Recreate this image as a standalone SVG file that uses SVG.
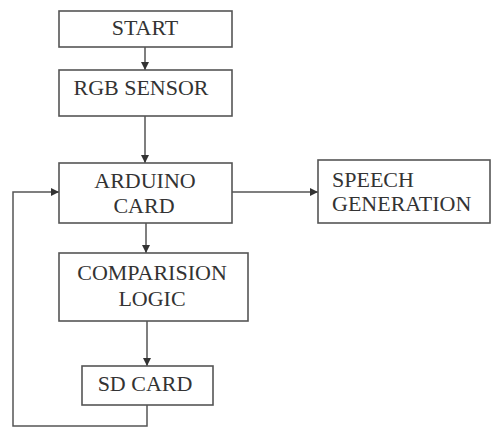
<svg xmlns="http://www.w3.org/2000/svg" width="492" height="428" viewBox="0 0 492 428">
<style>
.box{fill:#fff;stroke:#555;stroke-width:1.6}
.t{font-family:"Liberation Serif","Times New Roman",serif;font-size:22px;fill:#333}
.c{text-anchor:middle}
.ln{fill:none;stroke:#555;stroke-width:1.5}
</style>
<defs>
<marker id="ah" viewBox="0 0 10 10" refX="10" refY="5" markerWidth="8" markerHeight="8" markerUnits="userSpaceOnUse" orient="auto">
<path d="M0,0 L10,5 L0,10 Z" fill="#333"/>
</marker>
</defs>
<rect width="492" height="428" fill="#fff"/>
<g id="connectors">
<line class="ln" x1="145" y1="47" x2="145" y2="70" marker-end="url(#ah)"/>
<line class="ln" x1="145" y1="116" x2="145" y2="163" marker-end="url(#ah)"/>
<line class="ln" x1="146" y1="223" x2="146" y2="253" marker-end="url(#ah)"/>
<line class="ln" x1="147" y1="321" x2="147" y2="366" marker-end="url(#ah)"/>
<line class="ln" x1="232" y1="192" x2="318" y2="192" marker-end="url(#ah)"/>
<polyline class="ln" points="147,405 147,426 13,426 13,192 59,192" marker-end="url(#ah)"/>
</g>
<g id="start">
<rect class="box" x="59" y="11" width="173" height="36"/>
<text class="t c" x="145" y="35">START</text>
</g>
<g id="rgb">
<rect class="box" x="59" y="70" width="173" height="46"/>
<text class="t c" x="141" y="95">RGB SENSOR</text>
</g>
<g id="arduino">
<rect class="box" x="59" y="163" width="173" height="60"/>
<text class="t c" x="145" y="188">ARDUINO</text>
<text class="t c" x="144" y="213">CARD</text>
</g>
<g id="comparision">
<rect class="box" x="59" y="253" width="189" height="68"/>
<text class="t c" x="152" y="280">COMPARISION</text>
<text class="t c" x="152" y="306">LOGIC</text>
</g>
<g id="sdcard">
<rect class="box" x="82" y="366" width="131" height="39"/>
<text class="t c" x="145" y="391">SD CARD</text>
</g>
<g id="speech">
<rect class="box" x="318" y="160" width="172" height="63"/>
<text class="t" x="332" y="187">SPEECH</text>
<text class="t" x="332" y="211">GENERATION</text>
</g>
</svg>
